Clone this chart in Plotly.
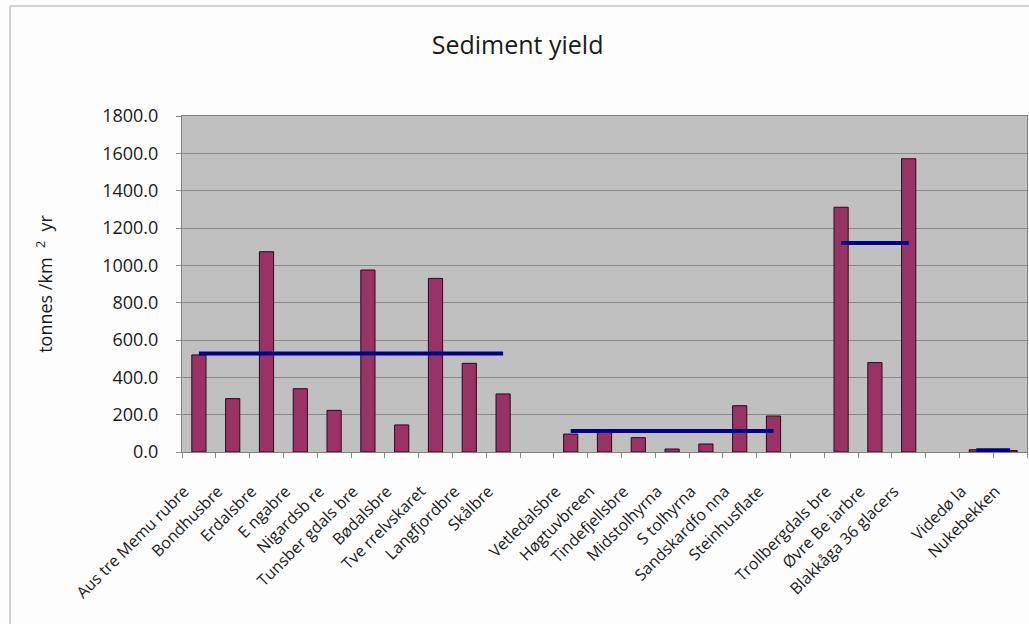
import plotly.graph_objects as go

# Glacier catchments, grouped by region; blank names keep gaps between groups
categories = [
    "Aus tre Memu rubre", "Bondhusbre", "Erdalsbre", "E ngabre", "Nigardsb re",
    "Tunsber gdals bre", "Bødalsbre", "Tve rrelvskaret", "Langfjordbre", "Skålbre",
    " ",
    "Vetledalsbre", "Høgtuvbreen", "Tindefjellsbre", "Midstolhyrna", "S tolhyrna",
    "Sandskardfo nna", "Steinhusflate",
    "  ",
    "Trollbergdals bre", "Øvre Be iarbre", "Blakkåga 36 glacers",
    "   ",
    "Videdø la", "Nukebekken",
]

# Sediment yield, tonnes/km² yr (None for the gap slots)
yield_values = [
    520, 286, 1073, 339, 223, 975, 145, 930, 475, 311,
    None,
    96, 110, 77, 16, 43, 248, 193,
    None,
    1311, 479, 1571,
    None,
    12, 8,
]

# Regional groups and their mean yield
group_members = [
    categories[0:10],
    categories[11:18],
    categories[19:22],
    categories[23:25],
]
group_means = [528, 112, 1120, 10]

y_ticks = [0, 200, 400, 600, 800, 1000, 1200, 1400, 1600, 1800]

fig = go.Figure()

fig.add_trace(go.Bar(
    x=categories,
    y=yield_values,
    width=0.42,
    marker=dict(color="#993366", line=dict(color="#2a0a1a", width=1)),
    showlegend=False,
))

for members, mean in zip(group_members, group_means):
    fig.add_trace(go.Scatter(
        x=members,
        y=[mean] * len(members),
        mode="lines",
        line=dict(color="#00008b", width=4),
        showlegend=False,
    ))

font_family = "Open Sans, Noto Sans, sans-serif"

# Category labels padded at the end so the slanted text sits a little below-left of its slot
pad = "\u00a0" * 5
tick_text = [c + pad if c.strip() else "" for c in categories]

fig.update_layout(
    width=1029,
    height=624,
    margin=dict(l=182, r=2, t=116, b=172),
    paper_bgcolor="#fdfdfd",
    plot_bgcolor="#c0c0c0",
    font=dict(family=font_family, color="#1a1a1a"),
    title=dict(
        text="Sediment yield",
        x=0.503, xanchor="center",
        y=0.928, yanchor="middle",
        font=dict(size=25, color="#1a1a1a"),
    ),
)

fig.update_xaxes(
    type="category",
    categoryorder="array",
    categoryarray=categories,
    tickvals=categories,
    ticktext=tick_text,
    tickson="boundaries",
    ticks="outside",
    ticklen=5,
    tickcolor="#8c8c8c",
    tickangle=-45,
    tickfont=dict(size=16, color="#1a1a1a"),
    showgrid=False,
    showline=True,
    linecolor="#808080",
    linewidth=1,
    mirror=True,
    ticklabelstandoff=8,
)

fig.update_yaxes(
    range=[0, 1800],
    tickvals=y_ticks,
    ticktext=[f"{v:.1f}" for v in y_ticks],
    ticks="outside",
    ticklen=5,
    tickcolor="#8c8c8c",
    tickfont=dict(size=18, color="#1a1a1a"),
    showgrid=True,
    gridcolor="#8a8a8a",
    gridwidth=1,
    showline=True,
    linecolor="#808080",
    linewidth=1,
    mirror=True,
    zeroline=False,
    ticklabelstandoff=14,
    title=dict(
        text="tonnes /km\u00a0\u00a0<sup>2</sup>\u00a0\u00a0yr",
        font=dict(size=18, color="#1a1a1a"),
        standoff=44,
    ),
)

# Light outer frame around the whole chart
fig.add_shape(
    type="rect",
    xref="paper", yref="paper",
    x0=(10 - 182) / 845, x1=(1040 - 182) / 845,
    y0=(452 - 640) / 336, y1=(452 - 6) / 336,
    line=dict(color="#a8a8a8", width=1),
    fillcolor="rgba(0,0,0,0)",
    layer="below",
)

fig.write_html("out.html")
